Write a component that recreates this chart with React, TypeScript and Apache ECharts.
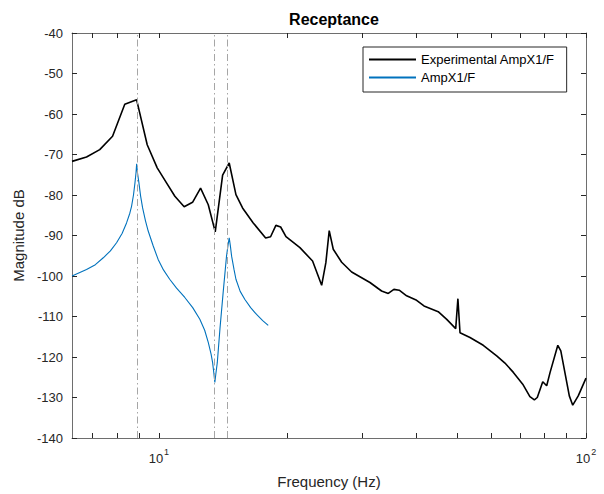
import React, { useEffect, useRef } from "react";
import * as echarts from "echarts";

// Measured FRF (Hz, dB)
const expFreq = [
  6.26, 6.77, 7.27, 7.79, 8.32, 8.87, 9.39, 9.91, 10.42, 10.9, 11.46, 11.99, 12.52, 13.05,
  13.55, 14.1, 14.61, 15.15, 15.7, 16.63, 17.78, 18.26, 18.79, 19.28, 19.84, 21.39, 22.9,
  24.05, 24.6, 25.05, 25.6, 26.79, 28.27, 31.2, 33.22, 34.44, 35.5, 36.53, 38.02, 40.13,
  41.75, 45.08, 47.2, 49.54, 50.13, 50.7, 53.5, 57.47, 61.79, 64.6, 67.6, 71.1, 73.9, 75.7,
  76.9, 79.2, 80.9, 82.4, 85.9, 87.3, 91.4, 93.1, 95.9, 100,
];
const expMag = [
  -71.7, -70.6, -68.8, -65.5, -57.6, -56.5, -67.6, -73.3, -77.0, -80.3, -82.9, -81.8, -78.3,
  -82.4, -89.1, -75.1, -72.1, -79.9, -83.2, -86.9, -90.6, -90.3, -87.5, -87.9, -90.3, -93.0,
  -96.3, -102.3, -96.7, -88.8, -93.4, -96.6, -99.0, -101.6, -103.7, -104.3, -103.3, -103.5,
  -104.9, -106.0, -107.4, -108.8, -110.7, -113.0, -105.6, -114.0, -115.2, -117.1, -119.7,
  -121.5, -123.8, -126.7, -129.8, -130.6, -130.0, -126.1, -127.1, -123.8, -117.1, -118.5,
  -129.6, -131.9, -129.6, -125.2,
];

// Two-mode model FRF (Hz, dB)
const modelFreq = [
  6.26, 6.77, 7.1, 7.41, 7.7, 7.96, 8.2, 8.4, 8.55, 8.63, 8.72, 8.79, 8.84, 8.87, 8.91, 8.98,
  9.06, 9.16, 9.3, 9.44, 9.7, 9.96, 10.25, 10.6, 11.0, 11.5, 12.0, 12.47, 12.8, 13.05, 13.25,
  13.36, 13.45, 13.52, 13.6, 13.7, 13.9, 14.14, 14.4, 14.52, 14.61, 14.7, 14.8, 15.0, 15.15,
  15.5, 15.9, 16.4, 16.93, 17.5, 18.03,
];
const modelMag = [
  -100.0, -98.4, -97.2, -95.5, -93.8, -91.8, -89.5, -86.9, -84.5, -82.8, -80.0, -77.0, -74.5,
  -72.3, -74.5, -77.0, -80.2, -83.2, -86.3, -88.9, -92.6, -95.9, -98.5, -100.8, -103.0,
  -105.3, -107.8, -110.7, -113.4, -116.4, -119.3, -121.4, -124.0, -126.3, -124.0, -121.4,
  -113.0, -104.1, -95.1, -92.3, -90.6, -92.5, -95.1, -98.5, -100.8, -103.8, -105.8, -107.8,
  -109.5, -111.0, -112.2,
];

// Natural / anti-resonance frequencies (Hz)
const markerFreq = [8.87, 13.52, 14.61];

// Axis ranges and ticks
const freqMin = 6.26;
const freqMax = 100;
const minorTickFreq = [7, 8, 9, 10, 20, 30, 40, 50, 60, 70, 80, 90, 100];
const decadeLabels = [1, 2];
const magMin = -140;
const magMax = -40;
const magStep = 10;

const FONT = "'Liberation Sans', Arial, Helvetica, sans-serif";
const INK = "#262626";
const AXIS = "#6e6e6e";

const lg = (f: number) => Math.log10(f);

export default function App() {
  const ref = useRef<HTMLDivElement>(null);

  useEffect(() => {
    document.body.style.margin = "0";
    if (!ref.current) return;
    const chart = echarts.init(ref.current, undefined, { renderer: "svg" });

    const xCommon = {
      type: "value" as const,
      min: lg(freqMin),
      max: lg(freqMax),
      splitLine: { show: false },
      axisLine: { show: true, lineStyle: { color: AXIS, width: 1 } },
      axisTick: {
        show: true,
        inside: true,
        length: 5,
        customValues: minorTickFreq.map(lg),
        lineStyle: { color: INK, width: 1 },
      },
    };
    const yCommon = {
      type: "value" as const,
      min: magMin,
      max: magMax,
      interval: magStep,
      splitLine: { show: false },
      axisLine: { show: true, lineStyle: { color: AXIS, width: 1 } },
      axisTick: { show: true, inside: true, length: 5, lineStyle: { color: INK, width: 1 } },
    };

    chart.setOption({
      animation: false,
      backgroundColor: "#ffffff",
      textStyle: { fontFamily: FONT },
      title: {
        text: "Receptance",
        left: 329,
        textAlign: "center",
        top: 6,
        textStyle: { fontFamily: FONT, fontSize: 16, fontWeight: "bold", color: "#000" },
      },
      grid: { left: 72, right: 18, top: 33, bottom: 55, containLabel: false },
      legend: {
        orient: "vertical",
        left: 363,
        top: 47,
        padding: [6, 12, 8, 5],
        itemGap: 5,
        itemWidth: 47,
        itemHeight: 14,
        borderColor: INK,
        borderWidth: 1,
        backgroundColor: "#fff",
        itemStyle: { opacity: 0 },
        textStyle: { fontFamily: FONT, fontSize: 13, color: "#000" },
        data: ["Experimental AmpX1/F", "AmpX1/F"],
      },
      xAxis: [
        {
          ...xCommon,
          position: "bottom",
          name: "Frequency (Hz)",
          nameLocation: "middle",
          nameGap: 36,
          nameTextStyle: { fontFamily: FONT, fontSize: 15, color: INK },
          axisLabel: {
            show: true,
            customValues: decadeLabels,
            margin: 9,
            formatter: (v: number) => `{b|10}{s|${Math.round(v)}}`,
            rich: {
              b: { fontFamily: FONT, fontSize: 13, color: INK, lineHeight: 18, verticalAlign: "bottom" },
              s: { fontFamily: FONT, fontSize: 9, color: INK, lineHeight: 18, verticalAlign: "top", padding: [0, 0, 0, 1] },
            },
          },
        },
        {
          ...xCommon,
          position: "top",
          axisLabel: { show: false },
        },
      ],
      yAxis: [
        {
          ...yCommon,
          position: "left",
          name: "Magnitude dB",
          nameLocation: "middle",
          nameGap: 46,
          nameTextStyle: { fontFamily: FONT, fontSize: 15, color: INK },
          axisLabel: { show: true, margin: 9, fontFamily: FONT, fontSize: 13, color: INK },
        },
        {
          ...yCommon,
          position: "right",
          axisLabel: { show: false },
        },
      ],
      series: [
        {
          name: "Experimental AmpX1/F",
          type: "line",
          xAxisIndex: 0,
          yAxisIndex: 0,
          symbol: "none",
          lineStyle: { color: "#000000", width: 1.6 },
          itemStyle: { color: "#000000" },
          data: expFreq.map((f, i) => [lg(f), expMag[i]]),
        },
        {
          name: "AmpX1/F",
          type: "line",
          xAxisIndex: 0,
          yAxisIndex: 0,
          symbol: "none",
          lineStyle: { color: "#0072BD", width: 1.1 },
          itemStyle: { color: "#0072BD" },
          data: modelFreq.map((f, i) => [lg(f), modelMag[i]]),
          markLine: {
            silent: true,
            symbol: "none",
            label: { show: false },
            lineStyle: { color: "#a6a6a6", width: 1, type: [7, 3, 1.5, 3] },
            data: markerFreq.map((f) => ({ xAxis: lg(f) })),
          },
        },
      ],
    });

    return () => chart.dispose();
  }, []);

  return <div ref={ref} style={{ width: 604, height: 494 }} />;
}
